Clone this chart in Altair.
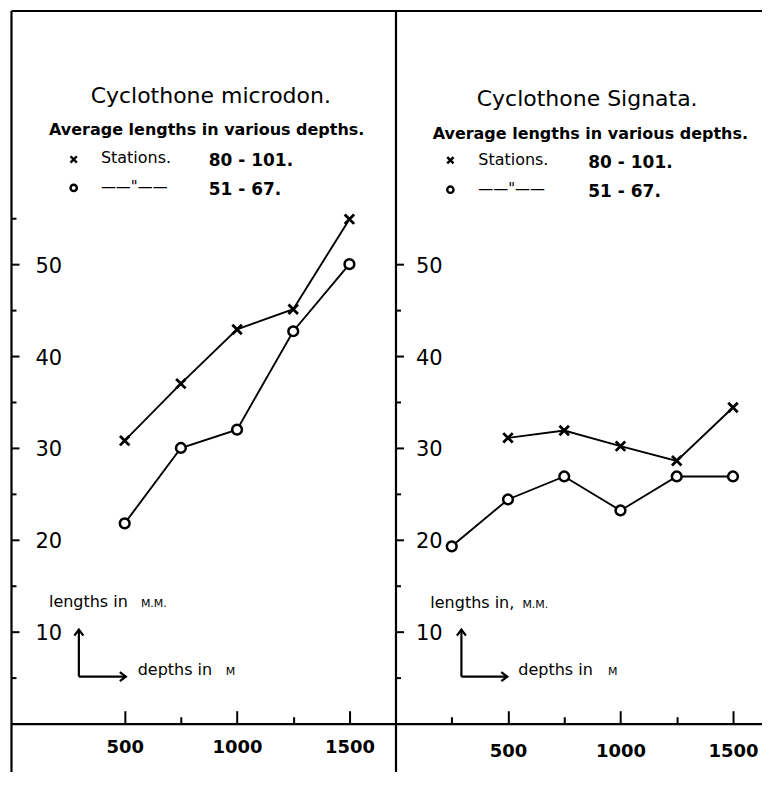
import altair as alt
import pandas as pd

# ---- values ----
micro_depths = [500, 750, 1000, 1250, 1500]
micro_st80_101 = [30.8, 37.0, 42.9, 45.1, 54.9]
micro_st51_67 = [21.8, 30.0, 32.0, 42.7, 50.0]

sign_depths_80_101 = [500, 750, 1000, 1250, 1500]
sign_st80_101 = [31.1, 31.9, 30.2, 28.6, 34.4]
sign_depths_51_67 = [250, 500, 750, 1000, 1250, 1500]
sign_st51_67 = [19.3, 24.4, 26.9, 23.2, 26.9, 26.9]

left_xticks = [500, 750, 1000, 1250, 1500]
right_xticks = [250, 500, 750, 1000, 1250, 1500]
x_labels = [500, 1000, 1500]
left_yticks = [5, 10, 15, 20, 25, 30, 35, 40, 45, 50, 55]
right_yticks = [5, 10, 15, 20, 25, 30, 35, 40, 45, 50]

FONT = "DejaVu Sans"
H = 762
YDOM = [-5.2, 77.6]
PXU = H / (YDOM[1] - YDOM[0])
ZERO_PX = YDOM[1] * PXU

XPATH = "M-1,-1L1,1M-1,1L1,-1"
UPHEAD = "M-0.6,0.8L0,0L0.6,0.8"
RIGHTHEAD = "M-0.8,-0.6L0,0L-0.8,0.6"


def panel(title, width, xdom, xticks, yticks, s1x, s1y, s2x, s2y, ann, ylab_pad, xlab_pad):
    xs = alt.Scale(domain=xdom, nice=False, zero=False)
    ys = alt.Scale(domain=YDOM, nice=False, zero=False)
    one = alt.Data(values=[{}])

    def XD(v):
        return alt.XDatum(v, type="quantitative", scale=xs, axis=None)

    def YD(v):
        return alt.YDatum(v, type="quantitative", scale=ys, axis=None)

    df = pd.DataFrame({
        "depth": list(s1x) + list(s2x),
        "length": list(s1y) + list(s2y),
        "series": ["a"] * len(s1x) + ["b"] * len(s2x),
    })

    yaxis = alt.Axis(
        orient="right", offset=-width, values=yticks, title=None, grid=False,
        domain=True, ticks=True,
        tickSize={"condition": {"test": "datum.value % 10 === 0", "value": 8}, "value": 5},
        labelExpr="datum.value % 10 === 0 ? datum.label : ''",
        labelFont=FONT, labelFontSize=21, labelColor="black",
        labelPadding=ylab_pad, labelAlign="left", labelBaseline="middle",
        labelOffset=2, labelFlush=False, labelOverlap=False,
    )
    xaxis_zero = alt.Axis(
        orient="top", offset=-ZERO_PX, values=xticks, labels=False, title=None,
        grid=False, domain=True, ticks=True,
        tickSize={"condition": {"test": "datum.value % 500 === 0", "value": 13}, "value": 7},
    )
    xaxis_labels = alt.Axis(
        orient="bottom", offset=-(H - ZERO_PX), values=x_labels, domain=False,
        ticks=False, tickSize=0, labelPadding=xlab_pad, labelFont=FONT,
        labelFontSize=18, labelFontWeight="bold", labelColor="black",
        title=None, grid=False, format="d", labelFlush=False,
    )
    xaxis_border = alt.Axis(
        orient="top", offset=0, domain=True, ticks=False, labels=False,
        title=None, grid=False,
    )

    base = alt.Chart(df)
    lines = base.mark_line(color="black", strokeWidth=1.9).encode(
        x=alt.X("depth:Q", scale=xs, axis=xaxis_zero),
        y=alt.Y("length:Q", scale=ys, axis=yaxis),
        detail="series:N",
        order="depth:Q",
    )
    crosses = base.transform_filter("datum.series === 'a'").mark_point(
        shape=XPATH, size=90, strokeWidth=2.8, color="black", filled=False, opacity=1
    ).encode(
        x=alt.X("depth:Q", scale=xs, axis=xaxis_labels),
        y=alt.Y("length:Q", scale=ys, axis=None),
    )
    circles = base.transform_filter("datum.series === 'b'").mark_point(
        shape="circle", size=95, strokeWidth=2.5, fill="white", stroke="black",
        fillOpacity=1, opacity=1,
    ).encode(
        x=alt.X("depth:Q", scale=xs, axis=xaxis_border),
        y=alt.Y("length:Q", scale=ys, axis=None),
    )

    def text(t, x, y, size, weight="normal", align="left"):
        return alt.Chart(one).mark_text(
            text=t, font=FONT, fontSize=size, fontWeight=weight, align=align,
            baseline="alphabetic", color="black",
        ).encode(x=XD(x), y=YD(y))

    def sym(shape, x, y, size, sw, fill=None):
        kw = dict(shape=shape, size=size, strokeWidth=sw, stroke="black", opacity=1)
        if fill:
            kw.update(fill=fill, fillOpacity=1)
        else:
            kw.update(filled=False)
        return alt.Chart(one).mark_point(**kw).encode(x=XD(x), y=YD(y))

    a = ann
    layers = [lines, crosses, circles,
              text(title, a["title"][0], a["title"][1], 22, align="center"),
              text("Average lengths in various depths.", a["sub"][0], a["sub"][1], 16, "bold", "center"),
              sym(XPATH, a["leg1"][0], a["leg1"][1], 40, 2.4),
              text("Stations.", a["st"][0], a["st"][1], 16),
              text("80 - 101.", a["r1"][0], a["r1"][1], 17, "bold"),
              sym("circle", a["leg2"][0], a["leg2"][1], 40, 2.4, fill="white"),
              text('——"——', a["dash"][0], a["dash"][1], 15),
              text("51 - 67.", a["r2"][0], a["r2"][1], 17, "bold"),
              text(a["len_text"], a["len"][0], a["len"][1], 16),
              text("M.M.", a["mm"][0], a["mm"][1], 11),
              text("depths in", a["dep"][0], a["dep"][1], 16),
              text("M", a["m"][0], a["m"][1], 11),
              ]
    ax, ay0, ay1, axe = a["arrow"]
    layers += [
        alt.Chart(one).mark_rule(color="black", strokeWidth=2.2).encode(
            x=XD(ax), y=YD(ay0), y2=alt.Y2Datum(ay1)),
        alt.Chart(one).mark_rule(color="black", strokeWidth=2.2).encode(
            x=XD(ax), x2=alt.X2Datum(axe), y=YD(ay0)),
        sym(UPHEAD, ax, ay1, 225, 2.2),
        sym(RIGHTHEAD, axe, ay0, 225, 2.2),
    ]
    return alt.layer(*layers).resolve_axis(x="independent", y="independent").properties(
        width=width, height=H
    )


left_ann = {
    "title": (883, 67.5), "sub": (865, 64.0),
    "leg1": (273, 61.4), "st": (394, 61.0), "r1": (874, 60.65),
    "leg2": (273, 58.3), "dash": (394, 57.8), "r2": (874, 57.5),
    "len_text": "lengths in", "len": (163, 12.73), "mm": (572, 12.73),
    "dep": (558, 5.3), "m": (950, 5.3),
    "arrow": (296, 5.12, 10.23, 505),
}
right_ann = {
    "title": (852, 67.2), "sub": (866, 63.6),
    "leg1": (244, 61.3), "st": (368, 60.76), "r1": (857, 60.43),
    "leg2": (244, 58.1), "dash": (368, 57.6), "r2": (857, 57.3),
    "len_text": "lengths in,", "len": (155, 12.6), "mm": (564, 12.6),
    "dep": (546, 5.3), "m": (945, 5.3),
    "arrow": (293, 5.12, 10.23, 497),
}

left = panel("Cyclothone microdon.", 385, [-6, 1705], left_xticks, left_yticks,
             micro_depths, micro_st80_101, micro_depths, micro_st51_67,
             left_ann, 16, 15)
right = panel("Cyclothone Signata.", 367, [0, 1629], right_xticks, right_yticks,
              sign_depths_80_101, sign_st80_101, sign_depths_51_67, sign_st51_67,
              right_ann, 12, 19)

chart = alt.hconcat(left, right, spacing=0, bounds="flush").properties(
    padding={"left": 2, "top": 2, "right": 0, "bottom": 0},
    background="white",
).configure_view(stroke=None).configure_axis(
    domainColor="black", domainWidth=2.2, tickColor="black", tickWidth=2,
)

chart.save("out.html", embed_options={"renderer": "svg", "actions": False})
